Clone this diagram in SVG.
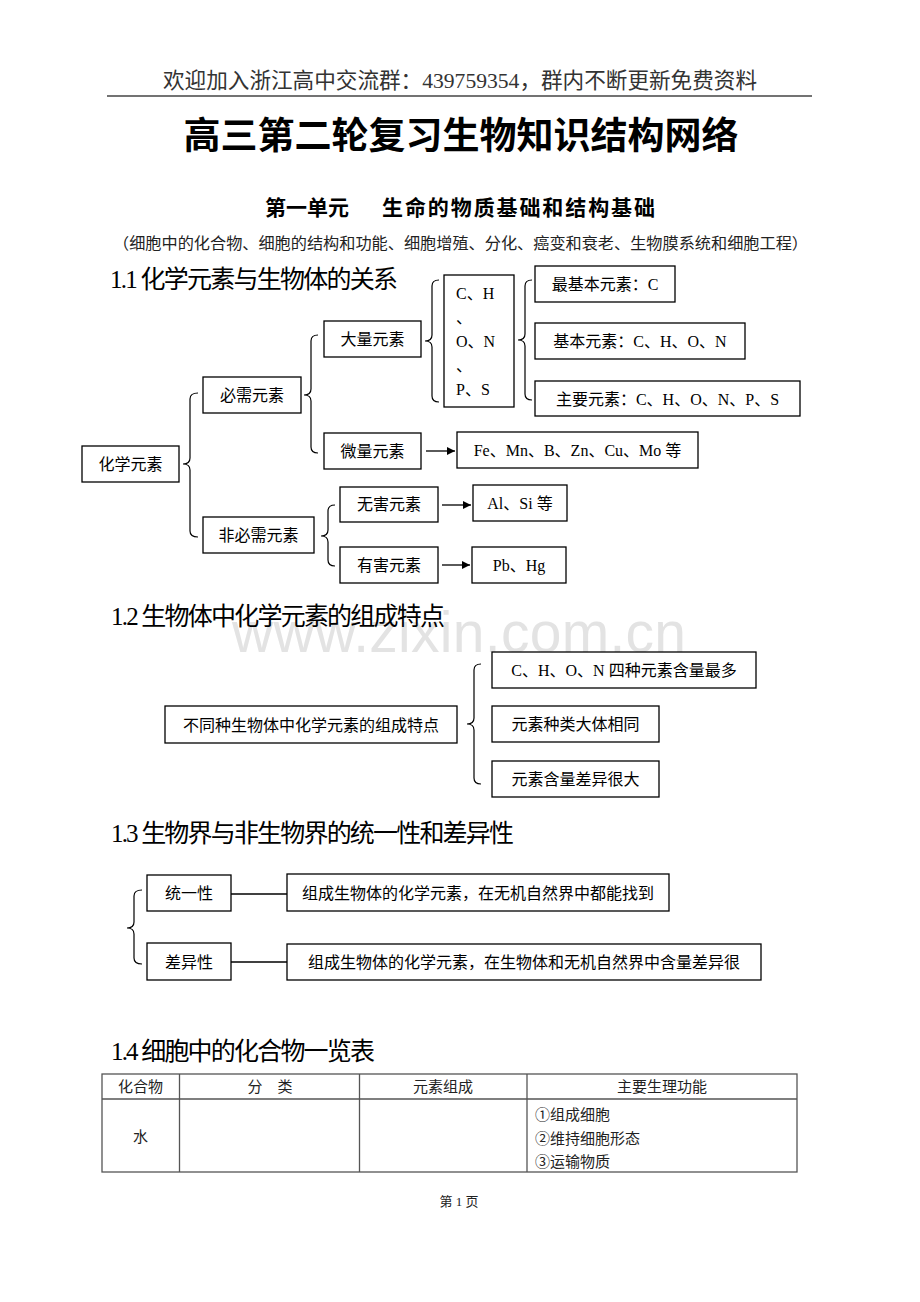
<svg xmlns="http://www.w3.org/2000/svg" width="920" height="1302" viewBox="0 0 920 1302">
<style>
.t{font-family:"Liberation Serif","Noto Sans CJK SC",serif;font-size:16px;fill:#000}
.c{text-anchor:middle}
.box{fill:#fff;stroke:#000;stroke-width:1.3}
.br{fill:none;stroke:#000;stroke-width:1.2}
.ln{stroke:#000;stroke-width:1.3;fill:none}
.h{font-family:"Liberation Serif","Noto Sans CJK SC",serif;font-size:25px;fill:#000}
.tb{font-family:"Liberation Serif","Noto Sans CJK SC",serif;font-size:15px;fill:#222}
.grid{fill:none;stroke:#555;stroke-width:1.3}
</style>
<defs>
<marker id="arr" viewBox="0 0 10 10" refX="10" refY="5" markerWidth="9" markerHeight="8" markerUnits="userSpaceOnUse" orient="auto">
<path d="M0,0 L10,5 L0,10 z" fill="#000"/>
</marker>
</defs>
<rect width="920" height="1302" fill="#fff"/>

<g id="header">
<text class="t c" x="460" y="88" style="font-size:21.5px;fill:#333" textLength="594" lengthAdjust="spacingAndGlyphs">欢迎加入浙江高中交流群：439759354，群内不断更新免费资料</text>
<line x1="107" y1="96" x2="812" y2="96" stroke="#444" stroke-width="1.5"/>
<text x="461" y="149" text-anchor="middle" style="font-family:'Noto Sans CJK SC',sans-serif;font-size:37px;font-weight:bold" fill="#000">高三第二轮复习生物知识结构网络</text>
<text x="265" y="215" style="font-family:'Noto Sans CJK SC',sans-serif;font-size:21px;font-weight:bold" fill="#000">第一单元</text>
<text x="382" y="215" style="font-family:'Noto Sans CJK SC',sans-serif;font-size:21px;font-weight:bold" fill="#000" textLength="273">生命的物质基础和结构基础</text>
<text class="t" x="113" y="249" style="font-size:15.5px;fill:#222" textLength="695" lengthAdjust="spacingAndGlyphs">（细胞中的化合物、细胞的结构和功能、细胞增殖、分化、癌变和衰老、生物膜系统和细胞工程）</text>
</g>

<text x="232" y="652" style="font-family:'Liberation Sans',sans-serif;font-size:57px" fill="#e3e3e3" textLength="454">www.zixin.com.cn</text>

<g id="headings">
<text class="h" x="110" y="288" textLength="288">1.1 化学元素与生物体的关系</text>
<text class="h" x="111" y="625" textLength="334">1.2 生物体中化学元素的组成特点</text>
<text class="h" x="111" y="842" textLength="403">1.3 生物界与非生物界的统一性和差异性</text>
<text class="h" x="111" y="1060" textLength="264">1.4 细胞中的化合物一览表</text>
</g>

<g id="connectors">
<path class="br" d="M198,393 Q190,393 190,399 L190,458 Q190,464 183,464 Q190,464 190,470 L190,531 Q190,537 198,537"/>
<path class="br" d="M318,335 Q311,335 311,341 L311,389 Q311,395 304,395 Q311,395 311,401 L311,447 Q311,453 318,453"/>
<path class="br" d="M335,505 Q328,505 328,511 L328,530 Q328,536 321,536 Q328,536 328,542 L328,560 Q328,566 335,566"/>
<path class="br" d="M439,280 Q432,280 432,286 L432,335 Q432,341 425,341 Q432,341 432,347 L432,396 Q432,402 439,402"/>
<path class="br" d="M532,280 Q525,280 525,286 L525,334 Q525,340 518,340 Q525,340 525,346 L525,394 Q525,400 532,400"/>
<path class="br" d="M481,664 Q474,664 474,670 L474,718 Q474,724 467,724 Q474,724 474,730 L474,778 Q474,784 481,784"/>
<path class="br" d="M142,890 Q134,890 134,896 L134,922 Q134,928 127,928 Q134,928 134,934 L134,958 Q134,964 142,964"/>
<line class="ln" x1="426" y1="451" x2="455" y2="451" marker-end="url(#arr)"/>
<line class="ln" x1="442" y1="505" x2="471" y2="505" marker-end="url(#arr)"/>
<line class="ln" x1="442" y1="565" x2="470" y2="565" marker-end="url(#arr)"/>
<line class="ln" x1="231" y1="894" x2="287" y2="894"/>
<line class="ln" x1="231" y1="962" x2="287" y2="962"/>
</g>

<g id="n_huaxue"><rect class="box" x="82" y="446" width="97" height="36"/><text class="t c" x="130.5" y="470">化学元素</text></g>
<g id="n_bixu"><rect class="box" x="203" y="377" width="98" height="36"/><text class="t c" x="252" y="401">必需元素</text></g>
<g id="n_feibixu"><rect class="box" x="203" y="517" width="111" height="36"/><text class="t c" x="258.5" y="541">非必需元素</text></g>
<g id="n_daliang"><rect class="box" x="324" y="321" width="97" height="36"/><text class="t c" x="372.5" y="345">大量元素</text></g>
<g id="n_weiliang"><rect class="box" x="324" y="433" width="97" height="36"/><text class="t c" x="372.5" y="457">微量元素</text></g>
<g id="n_wuhai"><rect class="box" x="340" y="487" width="98" height="35"/><text class="t c" x="389" y="510">无害元素</text></g>
<g id="n_youhai"><rect class="box" x="340" y="547" width="98" height="36"/><text class="t c" x="389" y="571">有害元素</text></g>
<g id="n_chons"><rect class="box" x="444" y="275" width="70" height="132"/>
<text class="t" x="456" y="299">C、H</text>
<text class="t" x="456" y="323">、</text>
<text class="t" x="456" y="347">O、N</text>
<text class="t" x="456" y="371">、</text>
<text class="t" x="456" y="395">P、S</text></g>
<g id="n_zuijiben"><rect class="box" x="535" y="266" width="140" height="36"/><text class="t c" x="605" y="290">最基本元素：C</text></g>
<g id="n_jiben"><rect class="box" x="535" y="323" width="210" height="36"/><text class="t c" x="640" y="347">基本元素：C、H、O、N</text></g>
<g id="n_zhuyao"><rect class="box" x="535" y="381" width="265" height="35"/><text class="t c" x="667.5" y="404.5">主要元素：C、H、O、N、P、S</text></g>
<g id="n_fe"><rect class="box" x="457" y="432" width="241" height="36"/><text class="t c" x="577.5" y="456">Fe、Mn、B、Zn、Cu、Mo 等</text></g>
<g id="n_al"><rect class="box" x="473" y="485" width="94" height="36"/><text class="t c" x="520" y="509">Al、Si 等</text></g>
<g id="n_pb"><rect class="box" x="472" y="547" width="94" height="36"/><text class="t c" x="519" y="571">Pb、Hg</text></g>

<g id="n_tedian"><rect class="box" x="165" y="706" width="292" height="37"/><text class="t c" x="311" y="730.5">不同种生物体中化学元素的组成特点</text></g>
<g id="n_zuiduo"><rect class="box" x="492" y="652" width="264" height="36"/><text class="t c" x="624" y="676">C、H、O、N 四种元素含量最多</text></g>
<g id="n_zhonglei"><rect class="box" x="492" y="706" width="167" height="36"/><text class="t c" x="575.5" y="730">元素种类大体相同</text></g>
<g id="n_hanliang"><rect class="box" x="492" y="761" width="167" height="36"/><text class="t c" x="575.5" y="785">元素含量差异很大</text></g>

<g id="n_tongyi"><rect class="box" x="147" y="875" width="84" height="36"/><text class="t c" x="189" y="899">统一性</text></g>
<g id="n_chayi"><rect class="box" x="147" y="943" width="84" height="37"/><text class="t c" x="189" y="967.5">差异性</text></g>
<g id="n_tongyi_d"><rect class="box" x="287" y="874" width="382" height="37"/><text class="t c" x="478" y="898.5">组成生物体的化学元素，在无机自然界中都能找到</text></g>
<g id="n_chayi_d"><rect class="box" x="287" y="944" width="474" height="36"/><text class="t c" x="524" y="968">组成生物体的化学元素，在生物体和无机自然界中含量差异很</text></g>

<g id="table">
<rect class="grid" x="102" y="1074" width="695" height="98"/>
<line class="grid" x1="102" y1="1099" x2="797" y2="1099"/>
<line class="grid" x1="179.5" y1="1074" x2="179.5" y2="1172"/>
<line class="grid" x1="359.5" y1="1074" x2="359.5" y2="1172"/>
<line class="grid" x1="527" y1="1074" x2="527" y2="1172"/>
<text class="tb c" x="140.5" y="1092">化合物</text>
<text class="tb c" x="270" y="1092" xml:space="preserve">分　类</text>
<text class="tb c" x="443" y="1092">元素组成</text>
<text class="tb c" x="662" y="1092">主要生理功能</text>
<text class="tb c" x="140.5" y="1142">水</text>
<text class="tb" x="535" y="1120">①组成细胞</text>
<text class="tb" x="535" y="1144">②维持细胞形态</text>
<text class="tb" x="535" y="1167">③运输物质</text>
</g>

<text class="t c" x="459" y="1206" style="font-size:13px;fill:#222">第 1 页</text>
</svg>
